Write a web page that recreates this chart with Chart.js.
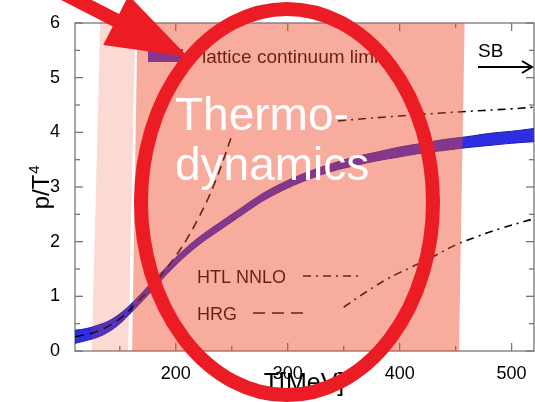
<!DOCTYPE html>
<html lang="en">
<head>
<meta charset="UTF-8">
<title>p/T^4 - lattice continuum limit</title>
<script src="https://cdn.jsdelivr.net/npm/chart.js"></script>
<style>
  html, body { margin: 0; padding: 0; background: #fff; }
</style>
</head>
<body>
<canvas id="c" width="535" height="402"></canvas>
<script>
// lattice continuum limit band (T in MeV, p/T^4 low / high edge)
const bandT  = [110, 120, 130, 140, 150, 160, 170, 180, 190, 200, 210, 220, 230, 240, 250, 260, 270, 280, 300, 320, 340, 360, 380, 400, 420, 440, 460, 480, 500, 520];
const bandLo = [0.14, 0.19, 0.25, 0.35, 0.50, 0.70, 0.91, 1.13, 1.36, 1.57, 1.76, 1.93, 2.08, 2.22, 2.36, 2.50, 2.64, 2.77, 2.98, 3.15, 3.29, 3.39, 3.48, 3.55, 3.62, 3.67, 3.72, 3.76, 3.80, 3.83];
const bandHi = [0.38, 0.41, 0.47, 0.55, 0.68, 0.86, 1.07, 1.29, 1.50, 1.71, 1.90, 2.07, 2.22, 2.36, 2.50, 2.64, 2.78, 2.91, 3.12, 3.29, 3.43, 3.55, 3.64, 3.73, 3.80, 3.87, 3.92, 3.98, 4.02, 4.07];

// HRG (dashed)
const hrgT = [110, 130, 150, 170, 180, 190, 200, 210, 220, 230, 240, 251];
const hrgP = [0.26, 0.36, 0.59, 0.99, 1.22, 1.47, 1.74, 2.05, 2.42, 2.84, 3.35, 4.00];

// HTL NNLO (dash-dot), upper and lower edge
const htlUpT = [345, 400, 450, 500, 520];
const htlUpP = [4.21, 4.30, 4.37, 4.43, 4.46];
const htlLoT = [350, 370, 390, 410, 430, 450, 470, 490, 520];
const htlLoP = [0.80, 1.08, 1.33, 1.53, 1.73, 1.94, 2.10, 2.24, 2.42];

// shaded regions drawn over the plot (T, p/T^4 corners)
const pinkT   = [125, 157.5, 164, 132.5, 125];
const pinkP   = [0, 0, 6, 6, 0];
const salmonT = [161, 453, 458, 165.8, 161];
const salmonP = [0, 0, 6, 6, 0];

// ticks
const xTicks = [150, 200, 250, 300, 350, 400, 450, 500];
const yTicks = [0, 0.5, 1, 1.5, 2, 2.5, 3, 3.5, 4, 4.5, 5, 5.5, 6];

const pts = (xs, ys) => xs.map((v, i) => ({x: v, y: ys[i]}));

const RED = 'rgb(236,28,36)';
const OVER = 'rgba(240,70,40,0.45)';
const OVER_LIGHT = 'rgba(240,70,40,0.2)';
const FONT = '"Liberation Sans", Arial, sans-serif';

function seg(ctx, x1, y1, x2, y2) {
  ctx.beginPath(); ctx.moveTo(x1, y1); ctx.lineTo(x2, y2); ctx.stroke();
}

// frame, inward ticks and the in-plot labels (drawn below the shaded regions)
const framePlugin = {
  id: 'framePlugin',
  beforeDatasetsDraw(chart) {
    const {ctx, chartArea: a, scales: {x, y}} = chart;
    ctx.save();
    ctx.strokeStyle = '#777';
    ctx.lineWidth = 1.3;
    ctx.strokeRect(a.left, a.top, a.right - a.left, a.bottom - a.top);
    xTicks.forEach(v => {
      const p = x.getPixelForValue(v);
      const L = v % 100 === 0 ? 8 : 5;
      seg(ctx, p, a.bottom, p, a.bottom - L);
      seg(ctx, p, a.top, p, a.top + L);
    });
    yTicks.forEach(v => {
      const p = y.getPixelForValue(v);
      const L = Number.isInteger(v) ? 8 : 5;
      seg(ctx, a.left, p, a.left + L, p);
      seg(ctx, a.right, p, a.right - L, p);
    });

    ctx.font = '19px ' + FONT;
    ctx.textBaseline = 'alphabetic';
    // legend: lattice band
    ctx.fillStyle = 'rgb(45,45,225)';
    ctx.fillRect(148, 49, 35, 13);
    ctx.fillStyle = '#000';
    ctx.fillText('lattice continuum limit', 202, 63);
    // legend: HTL NNLO / HRG
    ctx.font = '18px ' + FONT;
    ctx.fillText('HTL NNLO', 197, 283);
    ctx.fillText('HRG', 197, 320);
    ctx.strokeStyle = '#000';
    ctx.lineWidth = 1.6;
    ctx.setLineDash([8, 5, 2, 5]);
    seg(ctx, 303, 276, 358, 276);
    ctx.setLineDash([12, 7]);
    seg(ctx, 253, 313, 306, 313);
    ctx.setLineDash([]);
    // SB arrow
    ctx.font = '19px ' + FONT;
    ctx.fillText('SB', 478, 57);
    ctx.lineWidth = 2;
    seg(ctx, 478, 67, 532, 67);
    ctx.beginPath();
    ctx.moveTo(522, 61); ctx.lineTo(532, 67); ctx.lineTo(522, 73);
    ctx.stroke();
    ctx.restore();
  },
  afterDraw(chart) {
    const {ctx} = chart;
    ctx.save();
    // axis titles
    ctx.fillStyle = '#000';
    ctx.font = '25px ' + FONT;
    ctx.textAlign = 'center';
    ctx.fillText('T[MeV]', 304, 391);
    ctx.save();
    ctx.translate(49, 187);
    ctx.rotate(-Math.PI / 2);
    ctx.textAlign = 'left';
    ctx.font = '24px ' + FONT;
    const w = ctx.measureText('p/T').width;
    const w4 = 10;
    ctx.fillText('p/T', -(w + w4) / 2, 0);
    ctx.font = '15px ' + FONT;
    ctx.fillText('4', -(w + w4) / 2 + w + 1, -10);
    ctx.restore();

    // big white caption
    ctx.fillStyle = '#fff';
    ctx.textAlign = 'left';
    ctx.font = '46px ' + FONT;
    ctx.fillText('Thermo-', 175, 130);
    ctx.fillText('dynamics', 175, 180);

    // red ellipse
    ctx.strokeStyle = RED;
    ctx.lineWidth = 14;
    ctx.beginPath();
    ctx.ellipse(287, 202, 146, 193, 0, 0, Math.PI * 2);
    ctx.stroke();

    // red arrow
    const tip = [188, 57], d = [0.89, 0.455], n = [-0.455, 0.89];
    const B = [tip[0] - 81 * d[0], tip[1] - 81 * d[1]];
    const hw = 28, sw = 7, back = 220;
    ctx.fillStyle = RED;
    ctx.beginPath();
    ctx.moveTo(tip[0], tip[1]);
    ctx.lineTo(B[0] + hw * n[0], B[1] + hw * n[1]);
    ctx.lineTo(B[0] + sw * n[0], B[1] + sw * n[1]);
    ctx.lineTo(B[0] + sw * n[0] - back * d[0], B[1] + sw * n[1] - back * d[1]);
    ctx.lineTo(B[0] - sw * n[0] - back * d[0], B[1] - sw * n[1] - back * d[1]);
    ctx.lineTo(B[0] - sw * n[0], B[1] - sw * n[1]);
    ctx.lineTo(B[0] - hw * n[0], B[1] - hw * n[1]);
    ctx.closePath();
    ctx.fill();
    ctx.restore();
  }
};

const line = {pointRadius: 0, showLine: true, tension: 0.4};

const ctx = document.getElementById('c').getContext('2d');
const chart = new Chart(ctx, {
  type: 'scatter',
  data: {
    datasets: [
      {...line, label: 'band lo', data: pts(bandT, bandLo), borderColor: 'rgb(30,30,170)', borderWidth: 1,
        backgroundColor: 'rgb(45,45,225)', fill: '+1', order: 6},
      {...line, label: 'band hi', data: pts(bandT, bandHi), borderColor: 'rgb(30,30,170)', borderWidth: 1,
        fill: false, order: 5},
      {...line, label: 'HRG', data: pts(hrgT, hrgP), borderColor: '#000', borderWidth: 1.6,
        borderDash: [9, 6], fill: false, order: 4},
      {...line, label: 'HTL up', data: pts(htlUpT, htlUpP), borderColor: '#000', borderWidth: 1.6,
        borderDash: [8, 5, 2, 5], fill: false, order: 3},
      {...line, label: 'HTL lo', data: pts(htlLoT, htlLoP), borderColor: '#000', borderWidth: 1.6,
        borderDash: [8, 5, 2, 5], fill: false, order: 3},
      {pointRadius: 0, showLine: true, tension: 0, label: 'pink', data: pts(pinkT, pinkP),
        borderWidth: 0, borderColor: 'rgba(0,0,0,0)', backgroundColor: OVER_LIGHT, fill: 'shape', order: 1},
      {pointRadius: 0, showLine: true, tension: 0, label: 'salmon', data: pts(salmonT, salmonP),
        borderWidth: 0, borderColor: 'rgba(0,0,0,0)', backgroundColor: OVER, fill: 'shape', order: 0}
    ]
  },
  options: {
    responsive: false,
    animation: false,
    devicePixelRatio: 1,
    layout: {padding: {top: 23, right: 1, left: 0, bottom: 0}},
    plugins: {legend: {display: false}, tooltip: {enabled: false}},
    scales: {
      x: {
        type: 'linear', min: 110, max: 520,
        grid: {display: false}, border: {display: false},
        afterBuildTicks: s => { s.ticks = xTicks.map(v => ({value: v})); },
        afterFit: s => { s.height = 51; },
        ticks: {
          color: '#000', padding: 4, maxRotation: 0, autoSkip: false,
          font: {size: 18, family: FONT},
          callback: v => v % 100 === 0 ? v : ''
        }
      },
      y: {
        min: 0, max: 6,
        grid: {display: false}, border: {display: false},
        afterBuildTicks: s => { s.ticks = yTicks.map(v => ({value: v})); },
        afterFit: s => { s.width = 75; },
        ticks: {
          color: '#000', padding: 7, autoSkip: false,
          font: {size: 18, family: FONT},
          callback: v => Number.isInteger(v) ? v : ''
        }
      }
    }
  },
  plugins: [framePlugin]
});
</script>
</body>
</html>
